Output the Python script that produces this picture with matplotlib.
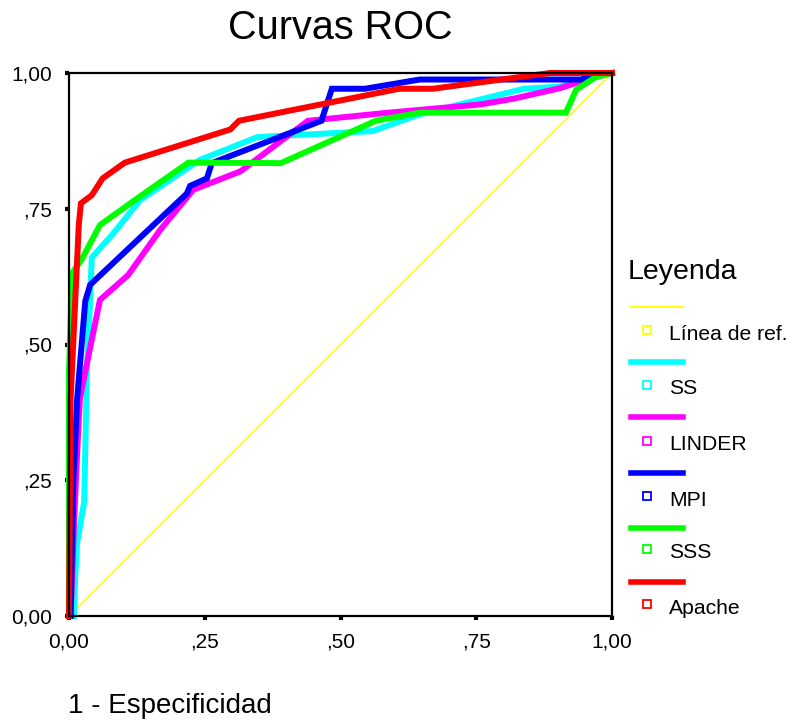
import numpy as np
import matplotlib
matplotlib.use('Agg')
import matplotlib.pyplot as plt
from matplotlib.lines import Line2D

plt.rcParams['font.family'] = ['Liberation Sans', 'DejaVu Sans']

# curve points (x = 1 - especificidad, y = sensibilidad)
ref_x = [0.0, 1.0]
ref_y = [0.0, 1.0]

ss_x = [0.009, 0.011, 0.015, 0.028, 0.033, 0.042, 0.082, 0.131, 0.241, 0.347, 0.559, 0.646, 0.838, 0.904, 0.970, 1.0]
ss_y = [0.0, 0.06, 0.135, 0.21, 0.45, 0.66, 0.705, 0.766, 0.840, 0.882, 0.893, 0.924, 0.971, 0.975, 0.996, 1.0]

linder_x = [0.003, 0.010, 0.015, 0.020, 0.034, 0.057, 0.109, 0.168, 0.229, 0.316, 0.440, 0.589, 0.757, 0.820, 0.904, 0.969, 1.0]
linder_y = [0.0, 0.19, 0.30, 0.40, 0.47, 0.582, 0.628, 0.711, 0.785, 0.819, 0.912, 0.927, 0.942, 0.953, 0.972, 0.993, 1.0]

mpi_x = [0.003, 0.008, 0.015, 0.030, 0.039, 0.217, 0.223, 0.254, 0.263, 0.465, 0.484, 0.545, 0.646, 0.944, 0.970, 1.0]
mpi_y = [0.0, 0.25, 0.40, 0.58, 0.61, 0.778, 0.792, 0.806, 0.834, 0.912, 0.971, 0.971, 0.988, 0.988, 0.999, 1.0]

sss_x = [0.0, 0.0, 0.006, 0.023, 0.057, 0.134, 0.220, 0.390, 0.565, 0.646, 0.915, 0.934, 0.969, 1.0]
sss_y = [0.0, 0.45, 0.632, 0.656, 0.720, 0.775, 0.835, 0.834, 0.912, 0.927, 0.927, 0.969, 0.992, 1.0]

apache_x = [0.0, 0.003, 0.010, 0.018, 0.022, 0.042, 0.062, 0.103, 0.297, 0.313, 0.608, 0.670, 0.886, 1.0]
apache_y = [0.0, 0.40, 0.55, 0.72, 0.76, 0.775, 0.806, 0.835, 0.896, 0.912, 0.971, 0.971, 1.0, 1.0]

ticks = [0.0, 0.25, 0.5, 0.75, 1.0]
tick_labels = ['0,00', ',25', ',50', ',75', '1,00']

series = [
    ('Línea de ref.', ref_x, ref_y, '#ffff00', 1.1),
    ('SS', ss_x, ss_y, '#00ffff', 4.3),
    ('LINDER', linder_x, linder_y, '#ff00ff', 4.3),
    ('MPI', mpi_x, mpi_y, '#0000ff', 4.3),
    ('SSS', sss_x, sss_y, '#00ff00', 4.3),
    ('Apache', apache_x, apache_y, '#ff0000', 4.3),
]

W, H = 792, 725
fig = plt.figure(figsize=(W / 100, H / 100), dpi=100)
ax = fig.add_axes([69 / W, 1 - 616 / H, 543 / W, 543 / H])

for name, xs, ys, col, lw in series:
    ax.plot(xs, ys, color=col, lw=lw, clip_on=False, solid_joinstyle='miter')

ax.set_xlim(0, 1)
ax.set_ylim(0, 1)
ax.set_xticks(ticks)
ax.set_xticklabels(tick_labels)
ax.set_yticks(ticks)
ax.set_yticklabels(tick_labels)
ax.tick_params(direction='out', length=3, width=3, color='black', labelsize=15, pad=9)
for sp in ax.spines.values():
    sp.set_linewidth(1.6)
    sp.set_color('black')

fig.text(340 / W, 1 - 28 / H, 'Curvas ROC', fontsize=28.5, ha='center', va='center')
fig.text(68 / W, 1 - 706 / H, '1 - Especificidad', fontsize=20, ha='left', va='center')

# legend drawn by hand: line sample on one row, square + label below
fig.text(628 / W, 1 - 272 / H, 'Leyenda', fontsize=20.5, ha='left', va='center')
line_y = [307, 362, 417, 473, 528, 582]
box_y = [330, 385, 441, 496, 549, 604]
for (name, xs, ys, col, lw), ly, by in zip(series, line_y, box_y):
    fig.add_artist(Line2D([631 / W, 683 / W], [1 - ly / H, 1 - ly / H],
                          color=col, lw=1.4 if lw < 2 else 4.0, transform=fig.transFigure))
    fig.add_artist(Line2D([647 / W], [1 - by / H], marker='s', markersize=6,
                          markerfacecolor='white', markeredgecolor=col, markeredgewidth=1.3,
                          transform=fig.transFigure))
    fig.text(669 / W, 1 - (by + 4) / H, name, fontsize=15.2, ha='left', va='center')

fig.savefig('out.png', dpi=100)
